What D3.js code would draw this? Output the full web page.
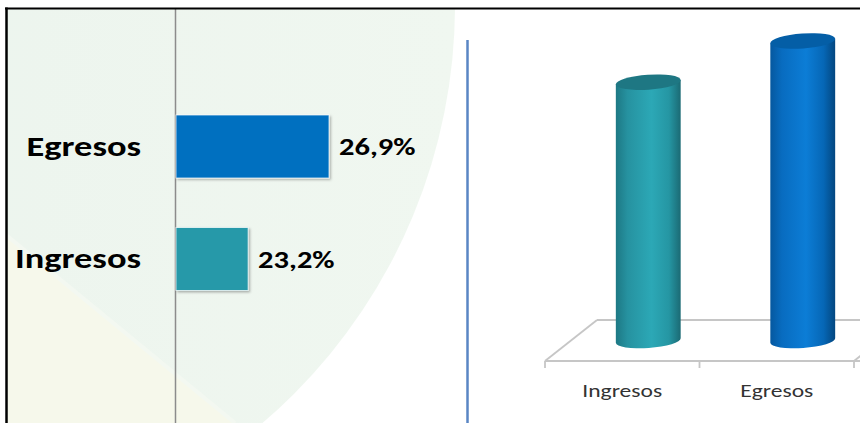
<!DOCTYPE html>
<html>
<head>
<meta charset="utf-8">
<script src="https://cdn.jsdelivr.net/npm/d3@7"></script>
<style>
  body { margin: 0; background: #fff; }
  svg { display: block; font-family: Carlito, Calibri, Lato, sans-serif; }
</style>
</head>
<body>
<svg id="chart" width="860" height="423"></svg>
<script>
// data
var categories = ["Ingresos", "Egresos"];
var values = [23.2, 26.9];
var barOrder = ["Egresos", "Ingresos"]; // left panel, top to bottom

var colors = {Ingresos: "#2899a9", Egresos: "#0070c0"};
var cylShades = {
    Ingresos: ["#1d7884", "#2692a0", "#2ca8b6", "#2596a3", "#1b6a74"],
    Egresos:  ["#05589f", "#086cc0", "#0c7dd6", "#0667b6", "#034780"]
};
var topShades = {Ingresos: "#1e7783", Egresos: "#045ea6"};

var locale = d3.formatLocale({decimal: ",", thousands: ".", grouping: [3], currency: ["", ""]});
var pct = function(v) { return locale.format(".1f")(v) + "%"; };

// the original text is wider than Lato at the same height
var stretch = function(sel, k) {
    sel.each(function() {
        var w = this.getComputedTextLength();
        d3.select(this).attr("textLength", w * k).attr("lengthAdjust", "spacingAndGlyphs");
    });
};

Chart = function() {
    this.svg = d3.select("#chart");
    this.defs = this.svg.append("defs");

    this.render = function() {
        this.draw_background();
        this.draw_bars();
        this.draw_cylinders();
        this.draw_frame();
    }

    this.draw_background = function() {
        this.defs.append("clipPath").attr("id", "panel")
            .append("rect").attr("x", 7).attr("y", 9).attr("width", 853).attr("height", 414);
        var g = this.defs.append("linearGradient").attr("id", "bgGrad")
            .attr("x1", 0).attr("x2", 1).attr("y1", 0).attr("y2", 0);
        g.append("stop").attr("offset", "0%").attr("stop-color", "#e8f2eb");
        g.append("stop").attr("offset", "100%").attr("stop-color", "#f0f7f0");

        var bg = this.svg.append("g").attr("clip-path", "url(#panel)");
        bg.append("circle").attr("cx", -95).attr("cy", 5).attr("r", 550)
            .attr("fill", "url(#bgGrad)");
        bg.append("path").attr("d", "M0,230 L235,423 L0,423 Z").attr("fill", "#f6f8eb");
        bg.append("line").attr("x1", 0).attr("y1", 230).attr("x2", 235).attr("y2", 423)
            .attr("stroke", "#f3f8f1").attr("stroke-width", 4);
    }

    this.draw_bars = function() {
        var x = d3.scaleLinear().domain([19.9, d3.max(values)]).range([176, 329]);
        var y = d3.scalePoint().domain(barOrder).range([146.5, 259]);
        var barH = 63;
        var valueOf = function(c) { return values[categories.indexOf(c)]; };

        var f = this.defs.append("filter").attr("id", "shadow")
            .attr("x", "-10%").attr("y", "-10%").attr("width", "130%").attr("height", "130%");
        f.append("feDropShadow").attr("dx", 1.5).attr("dy", 1.5).attr("stdDeviation", 1)
            .attr("flood-color", "#000").attr("flood-opacity", 0.3);

        this.svg.append("line").attr("x1", 175.5).attr("x2", 175.5).attr("y1", 9).attr("y2", 423)
            .attr("stroke", "#8c8c8c").attr("stroke-width", 1.5);

        this.svg.selectAll("rect.bar").data(barOrder)
            .enter().append("rect").attr("class", "bar")
            .attr("x", x(19.9))
            .attr("y", function(d) { return y(d) - barH / 2; })
            .attr("width", function(d) { return x(valueOf(d)) - x(19.9); })
            .attr("height", barH)
            .attr("fill", function(d) { return colors[d]; })
            .attr("stroke", "#ffffff").attr("stroke-opacity", 0.7).attr("stroke-width", 1)
            .attr("filter", "url(#shadow)");

        this.svg.selectAll("text.cat").data(barOrder)
            .enter().append("text").attr("class", "cat")
            .attr("x", 141)
            .attr("y", function(d) { return y(d) + 9; })
            .attr("text-anchor", "end")
            .attr("font-size", 28).attr("font-weight", "bold").attr("fill", "#000")
            .text(function(d) { return d; })
            .call(stretch, 1.3);

        this.svg.selectAll("text.val").data(barOrder)
            .enter().append("text").attr("class", "val")
            .attr("x", function(d) { return x(valueOf(d)) + 10; })
            .attr("y", function(d) { return y(d) + 8.5; })
            .attr("font-size", 24).attr("font-weight", "bold").attr("fill", "#000")
            .text(function(d) { return pct(valueOf(d)); })
            .call(stretch, 1.27);
    }

    this.draw_cylinders = function() {
        var self = this;
        var floorY = 361, dx = 52, dy = -41;
        var x = d3.scaleBand().domain(categories).range([545, 854]);
        var bw = x.bandwidth();
        var y = d3.scaleLinear().domain([0, d3.max(values)]).range([floorY + dy / 2, 41]);
        var rx = 32.5, ry = 7.5, tilt = -4;
        var ex = rx * Math.cos(tilt * Math.PI / 180),
            ey = -rx * Math.sin(tilt * Math.PI / 180);

        // value axis line
        this.svg.append("line").attr("x1", 467.5).attr("x2", 467.5).attr("y1", 40).attr("y2", 423)
            .attr("stroke", "#5a86c4").attr("stroke-width", 2.5);

        // floor
        var floor = this.svg.append("g").attr("fill", "none")
            .attr("stroke", "#c6c6c6").attr("stroke-width", 1.8);
        var edges = x.domain().map(function(d) { return x(d); }).concat([x.range()[1]]);
        floor.append("line").attr("x1", edges[0]).attr("x2", 870).attr("y1", floorY).attr("y2", floorY);
        floor.append("line").attr("x1", edges[0] + dx).attr("x2", 870).attr("y1", floorY + dy).attr("y2", floorY + dy);
        floor.append("line").attr("x1", edges[0]).attr("y1", floorY).attr("x2", edges[0] + dx).attr("y2", floorY + dy);
        floor.append("line").attr("x1", edges[2]).attr("y1", floorY).attr("x2", edges[2] + dx).attr("y2", floorY + dy);
        floor.selectAll("line.tick").data(edges).enter().append("line").attr("class", "tick")
            .attr("x1", function(d) { return d; }).attr("x2", function(d) { return d; })
            .attr("y1", floorY).attr("y2", floorY + 7);

        categories.forEach(function(c, i) {
            var g = self.defs.append("linearGradient").attr("id", "cyl" + i)
                .attr("x1", 0).attr("x2", 1).attr("y1", 0).attr("y2", 0);
            var offs = [0, 0.18, 0.55, 0.82, 1];
            cylShades[c].forEach(function(col, k) {
                g.append("stop").attr("offset", offs[k]).attr("stop-color", col);
            });
        });

        var cyl = this.svg.selectAll("g.cyl").data(categories).enter().append("g").attr("class", "cyl");
        cyl.append("path")
            .attr("fill", function(d, i) { return "url(#cyl" + i + ")"; })
            .attr("d", function(d, i) {
                var cx = x(d) + bw / 2 + dx / 2, top = y(values[i]), bot = y(0);
                return "M" + (cx - ex) + "," + (top + ey) +
                    " L" + (cx - ex) + "," + (bot + ey) +
                    " A" + rx + "," + ry + " " + tilt + " 0 0 " + (cx + ex) + "," + (bot - ey) +
                    " L" + (cx + ex) + "," + (top - ey) + " Z";
            });
        cyl.append("ellipse")
            .attr("cx", function(d) { return x(d) + bw / 2 + dx / 2; })
            .attr("cy", function(d, i) { return y(values[i]); })
            .attr("rx", rx).attr("ry", ry)
            .attr("transform", function(d, i) {
                return "rotate(" + tilt + "," + (x(d) + bw / 2 + dx / 2) + "," + y(values[i]) + ")";
            })
            .attr("fill", function(d) { return topShades[d]; });

        this.svg.selectAll("text.xlab").data(categories)
            .enter().append("text").attr("class", "xlab")
            .attr("x", function(d) { return x(d) + bw / 2; })
            .attr("y", 397)
            .attr("text-anchor", "middle")
            .attr("font-size", 19).attr("fill", "#333")
            .text(function(d) { return d; })
            .call(stretch, 1.24);
    }

    this.draw_frame = function() {
        this.svg.append("line").attr("x1", 5).attr("x2", 860).attr("y1", 8.5).attr("y2", 8.5)
            .attr("stroke", "#000").attr("stroke-width", 2);
        this.svg.append("line").attr("x1", 6.5).attr("x2", 6.5).attr("y1", 7.5).attr("y2", 423)
            .attr("stroke", "#000").attr("stroke-width", 2.5);
    }
}

new Chart().render();
</script>
</body>
</html>
